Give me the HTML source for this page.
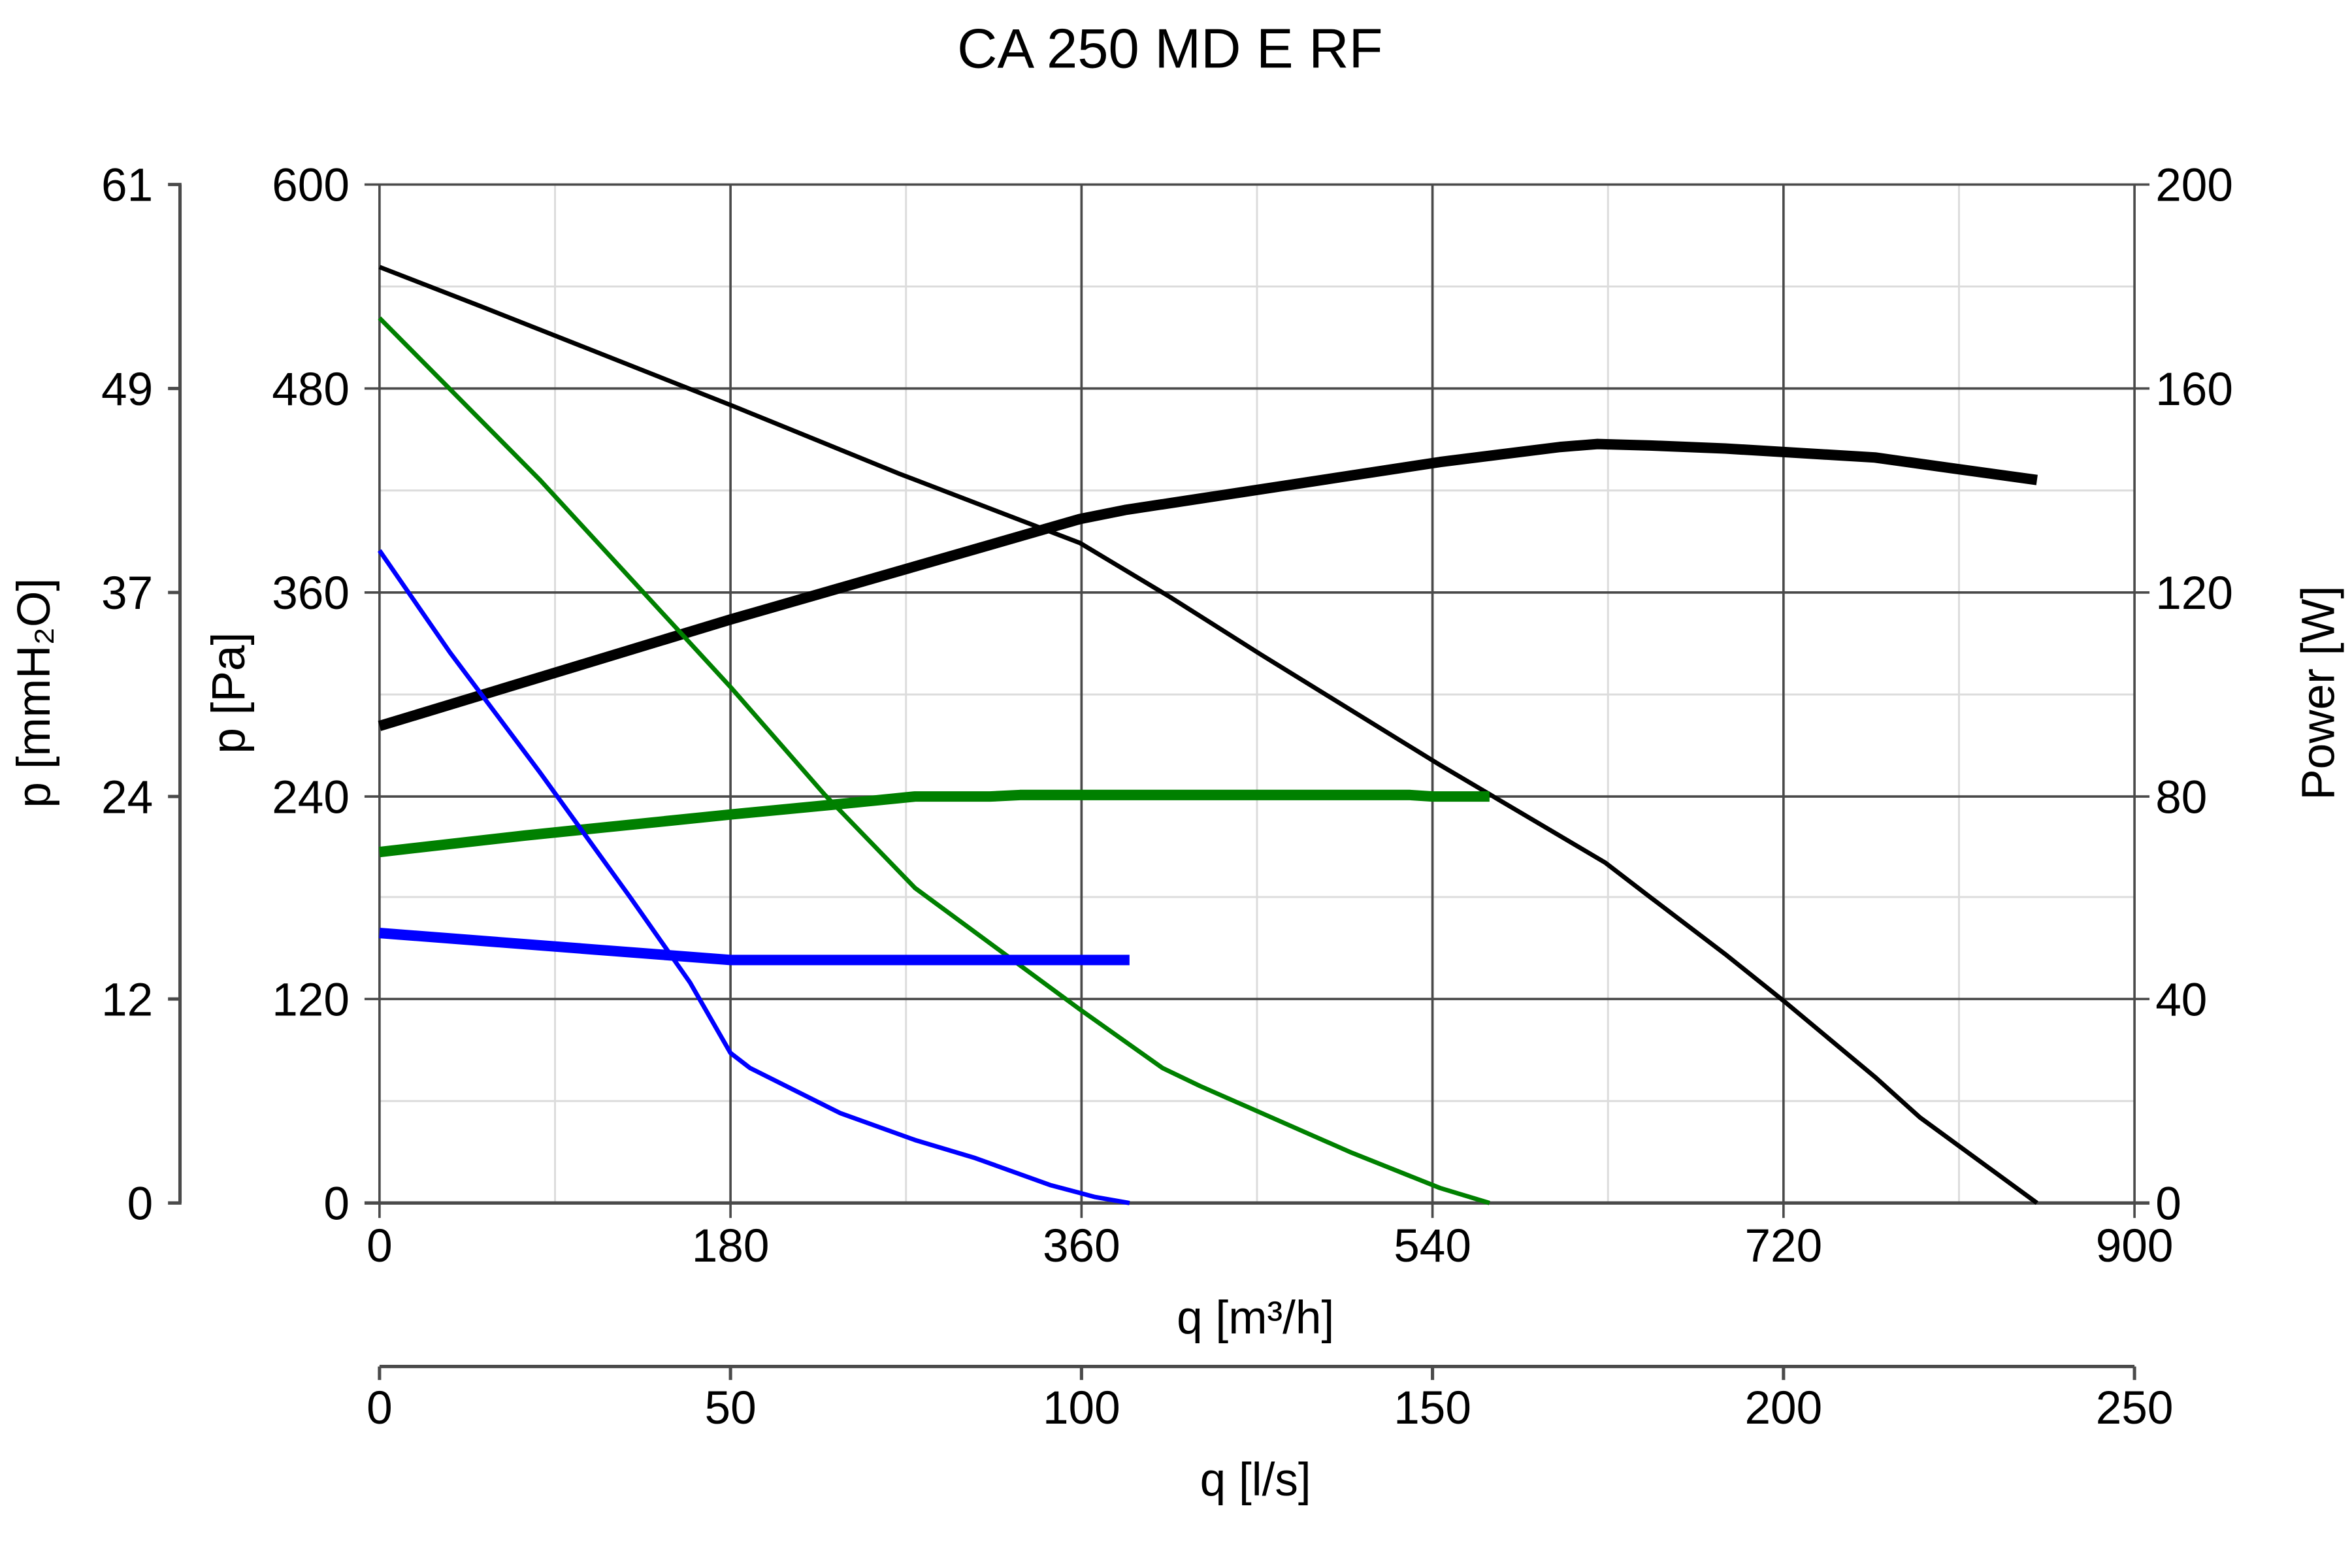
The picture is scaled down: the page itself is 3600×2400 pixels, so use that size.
<!DOCTYPE html>
<html><head><meta charset="utf-8"><style>html,body{margin:0;padding:0;background:#fff}svg{display:block}</style></head>
<body>
<svg width="3600" height="2400" viewBox="0 0 1568 1045.33" xmlns="http://www.w3.org/2000/svg" font-family="Liberation Sans, Arial, sans-serif">
<rect width="1568" height="1046" fill="#fff"/>
<g stroke="#dcdcdc" stroke-width="1.3">
<line x1="370" y1="123" x2="370" y2="802"/><line x1="604" y1="123" x2="604" y2="802"/><line x1="838" y1="123" x2="838" y2="802"/><line x1="1072" y1="123" x2="1072" y2="802"/><line x1="1306" y1="123" x2="1306" y2="802"/>
<line x1="253" y1="191" x2="1423" y2="191"/><line x1="253" y1="327" x2="1423" y2="327"/><line x1="253" y1="463" x2="1423" y2="463"/><line x1="253" y1="598" x2="1423" y2="598"/><line x1="253" y1="734" x2="1423" y2="734"/>
</g>
<g stroke="#4a4a4a" stroke-width="1.6">
<line x1="487" y1="123" x2="487" y2="812"/><line x1="721" y1="123" x2="721" y2="812"/><line x1="955" y1="123" x2="955" y2="812"/><line x1="1189" y1="123" x2="1189" y2="812"/><line x1="1423" y1="123" x2="1423" y2="812"/>
<line x1="243" y1="123" x2="1433" y2="123"/><line x1="243" y1="259" x2="1433" y2="259"/><line x1="243" y1="395" x2="1433" y2="395"/><line x1="243" y1="531" x2="1433" y2="531"/><line x1="243" y1="666" x2="1433" y2="666"/>
<line x1="253" y1="123" x2="253" y2="812"/>
</g>
<line x1="243" y1="802" x2="1433" y2="802" stroke="#4a4a4a" stroke-width="2.2"/>
<g stroke="#4a4a4a" stroke-width="2.2" fill="none">
<line x1="120" y1="123" x2="120" y2="802"/>
<line x1="112" y1="123" x2="121" y2="123"/><line x1="112" y1="259" x2="121" y2="259"/><line x1="112" y1="395" x2="121" y2="395"/><line x1="112" y1="531" x2="121" y2="531"/><line x1="112" y1="666" x2="121" y2="666"/><line x1="112" y1="802" x2="121" y2="802"/>
</g>
<g stroke="#4a4a4a" stroke-width="2.2">
<line x1="253" y1="911" x2="1423" y2="911"/>
<line x1="253" y1="911" x2="253" y2="920"/><line x1="487" y1="911" x2="487" y2="920"/><line x1="721" y1="911" x2="721" y2="920"/><line x1="955" y1="911" x2="955" y2="920"/><line x1="1189" y1="911" x2="1189" y2="920"/><line x1="1423" y1="911" x2="1423" y2="920"/>
</g>
<g fill="none" stroke-linejoin="round" stroke-linecap="butt">
<polyline stroke="#000" stroke-width="3" points="253,178 320,204 487,270 600,316 720,362 740,374 780,398 840,436 960,510 1070,575 1100,598 1150,636 1190,668 1250,718 1280,745 1358,802"/>
<polyline stroke="#000" stroke-width="7" points="253,484 487,413 720,346 750,340 960,308 1040,298 1065,296 1100,297 1150,299 1200,302 1250,305 1300,312 1358,320"/>
<polyline stroke="#008000" stroke-width="3" points="253,212 360,320 487,458 550,530 610,592 720,673 775,712 800,724 850,746 900,768 960,792 993,802"/>
<polyline stroke="#008000" stroke-width="7" points="253,568 350,557 487,543 560,536 610,531 660,531 680,530 940,530 955,531 993,531"/>
<polyline stroke="#0000ff" stroke-width="3" points="253,367 300,435 360,515 420,598 460,655 487,702 500,712 560,742 610,760 650,772 700,790 730,798 753,802"/>
<polyline stroke="#0000ff" stroke-width="7" points="253,622 487,640 500,640 753,640"/>
</g>
<g fill="#000" font-size="31">
<text x="780" y="45" text-anchor="middle" font-size="37">CA 250 MD E RF</text>
<g text-anchor="end">
<text x="102" y="134">61</text><text x="102" y="270">49</text><text x="102" y="406">37</text><text x="102" y="542">24</text><text x="102" y="677">12</text><text x="102" y="813">0</text>
<text x="233" y="134">600</text><text x="233" y="270">480</text><text x="233" y="406">360</text><text x="233" y="542">240</text><text x="233" y="677">120</text><text x="233" y="813">0</text>
</g>
<g text-anchor="start">
<text x="1437" y="134">200</text><text x="1437" y="270">160</text><text x="1437" y="406">120</text><text x="1437" y="542">80</text><text x="1437" y="677">40</text><text x="1437" y="813">0</text>
</g>
<g text-anchor="middle">
<text x="253" y="841">0</text><text x="487" y="841">180</text><text x="721" y="841">360</text><text x="955" y="841">540</text><text x="1189" y="841">720</text><text x="1423" y="841">900</text>
<text x="253" y="949">0</text><text x="487" y="949">50</text><text x="721" y="949">100</text><text x="955" y="949">150</text><text x="1189" y="949">200</text><text x="1423" y="949">250</text>
<text x="837" y="889">q [m³/h]</text>
<text x="837" y="997">q [l/s]</text>
<text transform="translate(33,462) rotate(-90)">p [mmH₂O]</text>
<text transform="translate(163,462) rotate(-90)">p [Pa]</text>
<text transform="translate(1556,462) rotate(-90)">Power [W]</text>
</g>
</g>
</svg>
</body></html>
